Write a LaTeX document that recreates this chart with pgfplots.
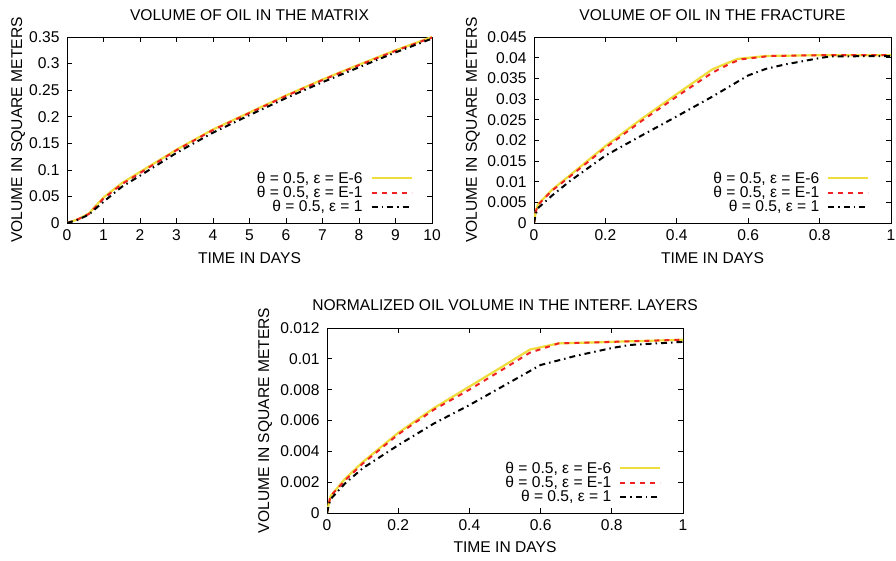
\documentclass[border=0pt]{standalone}
\usepackage{fontspec}
\setmainfont{Liberation Sans}
\usepackage{pgfplots}
\pgfplotsset{compat=1.18}

\definecolor{gpyellow}{HTML}{EEDD3A}
\definecolor{gpred}{HTML}{EE2222}

\pgfplotsset{
  gp/.style={
    scale only axis,
    axis line style={black, line width=0.9pt},
    tick align=inside,
    xtick pos=both, ytick pos=both,
    major tick length=5pt,
    tick style={black, line width=0.7pt},
    font=\fontsize{15.6}{16}\selectfont,
    tick label style={font=\fontsize{15.6}{16}\selectfont},
    yticklabel style={xshift=-4pt},
    xticklabel style={yshift=-3pt},
    every axis title shift=0pt,
    /pgf/number format/assume math mode=true,
    /pgf/number format/.cd, fixed, precision=3, /pgfplots/.cd,
    scaled y ticks=false, scaled x ticks=false,
    xlabel={TIME IN DAYS},
    ylabel={VOLUME IN SQUARE METERS},
    legend cell align=right,
    legend plot pos=right,
    legend style={draw=none, fill=none, anchor=south east, row sep=-2.4pt,
      column sep=6pt, inner sep=0pt,
      font=\fontsize{15.6}{16}\selectfont},
    legend image code/.code={\draw[#1] (0pt,0pt) -- (40pt,0pt);},
  },
  yel/.style={gpyellow, line width=2.2pt},
  red/.style={gpred, line width=2pt, dash pattern=on 5pt off 5pt},
  blk/.style={black, line width=2pt, dash pattern=on 6pt off 4pt on 1.5pt off 4pt},
}

\begin{document}
\begin{tikzpicture}[x=1pt,y=1pt]
\path[use as bounding box] (0,0) rectangle (896,560);

% matrix
\begin{axis}[gp, at={(67pt,337pt)}, anchor=south west,
  width=365pt, height=186pt,
  xmin=0, xmax=10, ymin=0, ymax=0.35,
  xtick={0,1,...,10}, ytick={0,0.05,...,0.35},
  title={VOLUME OF OIL IN THE MATRIX},
  title style={at={(axis description cs:0.5,1.118)}, anchor=center},
  xlabel style={at={(axis description cs:0.5,-0.19)}, anchor=center},
  ylabel style={at={(axis description cs:-0.134,0.5)}, anchor=center},
  legend style={at={(axis description cs:0.948,0.04)}},
]
\addplot[yel] coordinates {(0,0) (0.3,0.007) (0.6,0.018) (1,0.048) (1.5,0.075) (2,0.096) (3,0.138) (4,0.176) (5,0.208) (6,0.240) (7,0.270) (8,0.298) (9,0.325) (10,0.350)};
\addlegendentry{θ = 0.5, ε = E-6}
\addplot[red] coordinates {(0,0) (0.3,0.007) (0.6,0.017) (1,0.046) (1.5,0.073) (2,0.094) (3,0.137) (4,0.175) (5,0.207) (6,0.239) (7,0.269) (8,0.297) (9,0.324) (10,0.349)};
\addlegendentry{θ = 0.5, ε = E-1}
\addplot[blk] coordinates {(0,0) (0.3,0.006) (0.6,0.016) (1,0.040) (1.5,0.068) (2,0.089) (3,0.132) (4,0.170) (5,0.203) (6,0.235) (7,0.265) (8,0.293) (9,0.321) (10,0.347)};
\addlegendentry{θ = 0.5, ε = 1}
\end{axis}

% fracture
\begin{axis}[gp, at={(534pt,337pt)}, anchor=south west,
  width=357pt, height=186pt,
  xmin=0, xmax=1, ymin=0, ymax=0.045,
  xtick={0,0.2,...,1}, ytick={0,0.005,...,0.045},
  title={VOLUME OF OIL IN THE FRACTURE},
  title style={at={(axis description cs:0.5,1.118)}, anchor=center},
  xlabel style={at={(axis description cs:0.5,-0.19)}, anchor=center},
  ylabel style={at={(axis description cs:-0.171,0.5)}, anchor=center},
  legend style={at={(axis description cs:0.94,0.04)}},
]
\addplot[yel] coordinates {(0,0) (0.005,0.0028) (0.011,0.0045) (0.05,0.0080) (0.1,0.0115) (0.2,0.0186) (0.3,0.0251) (0.4,0.0312) (0.5,0.0372) (0.57,0.0397) (0.65,0.0404) (0.8,0.0406) (1,0.0406)};
\addlegendentry{θ = 0.5, ε = E-6}
\addplot[red] coordinates {(0,0) (0.005,0.0027) (0.011,0.0044) (0.05,0.0078) (0.1,0.0112) (0.2,0.0182) (0.3,0.0246) (0.4,0.0306) (0.5,0.0364) (0.55,0.0386) (0.58,0.0396) (0.66,0.0404) (0.8,0.0406) (1,0.0406)};
\addlegendentry{θ = 0.5, ε = E-1}
\addplot[blk] coordinates {(0,0) (0.005,0.0022) (0.011,0.0036) (0.05,0.0066) (0.1,0.0101) (0.2,0.0163) (0.3,0.0211) (0.4,0.0258) (0.5,0.0306) (0.6,0.0357) (0.65,0.0373) (0.7,0.0383) (0.8,0.0399) (0.83,0.0403) (1,0.0404)};
\addlegendentry{θ = 0.5, ε = 1}
\end{axis}

% interface layers
\begin{axis}[gp, at={(327pt,47pt)}, anchor=south west,
  width=356pt, height=185pt,
  xmin=0, xmax=1, ymin=0, ymax=0.012,
  xtick={0,0.2,...,1}, ytick={0,0.002,...,0.012},
  title={NORMALIZED OIL VOLUME IN THE INTERF. LAYERS},
  title style={at={(axis description cs:0.5,1.124)}, anchor=center},
  xlabel style={at={(axis description cs:0.5,-0.186)}, anchor=center},
  ylabel style={at={(axis description cs:-0.174,0.5)}, anchor=center},
  legend style={at={(axis description cs:0.94,0.04)}},
]
\addplot[yel] coordinates {(0,0) (0.005,0.0006) (0.01,0.0011) (0.05,0.0022) (0.1,0.0033) (0.2,0.0052) (0.3,0.0068) (0.4,0.0082) (0.5,0.0096) (0.57,0.0106) (0.65,0.0110) (0.8,0.0111) (1,0.01124)};
\addlegendentry{θ = 0.5, ε = E-6}
\addplot[red] coordinates {(0,0) (0.005,0.0006) (0.01,0.0011) (0.05,0.0021) (0.1,0.0032) (0.2,0.0051) (0.3,0.0067) (0.4,0.0080) (0.5,0.0094) (0.57,0.0104) (0.65,0.0110) (0.8,0.0111) (1,0.01124)};
\addlegendentry{θ = 0.5, ε = E-1}
\addplot[blk] coordinates {(0,0) (0.005,0.0005) (0.01,0.0009) (0.05,0.0019) (0.1,0.0029) (0.2,0.0044) (0.3,0.0058) (0.4,0.0070) (0.5,0.0083) (0.6,0.0096) (0.65,0.0099) (0.7,0.0102) (0.8,0.0107) (0.85,0.0109) (1,0.0111)};
\addlegendentry{θ = 0.5, ε = 1}
\end{axis}
\end{tikzpicture}
\end{document}
